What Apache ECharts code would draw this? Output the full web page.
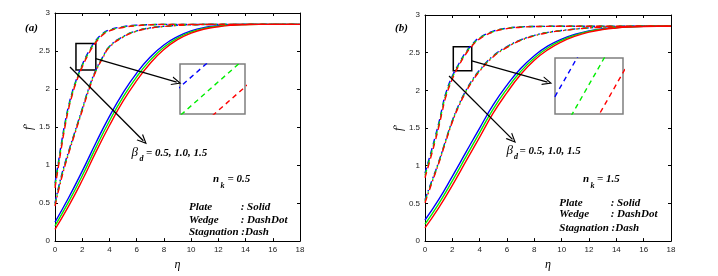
<!DOCTYPE html>
<html><head><meta charset="utf-8">
<script src="https://cdn.jsdelivr.net/npm/echarts@6/dist/echarts.min.js"></script>
<style>html,body{margin:0;padding:0;background:#fff}#c{width:718px;height:276px}</style>
</head><body><div id="c"></div>
<script>
// ---------- axes ----------
const xTicks = [0, 2, 4, 6, 8, 10, 12, 14, 16, 18];
const yTicks = [0, 0.5, 1, 1.5, 2, 2.5, 3];
const betaLabels = ['0.5', '1.0', '1.5'];          // blue, green, red
const colors = ['#0000ff', '#00ee00', '#ff0000'];

// ---------- eta grids ----------
const etaPlate = [0, 1, 2, 3, 4, 5, 6, 7, 8, 9, 10, 11, 12, 13, 14, 15, 16, 17, 18];
const etaWedge = [0, 0.5, 1, 1.5, 2, 2.5, 3, 3.5, 4, 5, 6, 7, 8, 9, 10, 12, 14, 16, 18];
const etaStag  = [0, 0.25, 0.5, 0.75, 1, 1.25, 1.5, 2, 2.5, 3, 3.5, 4, 5, 6, 7, 8, 10, 12, 14, 16, 18];

// ---------- panel (a): n_k = 0.5 ----------
const plateA_b05 = [0.25, 0.57, 0.92, 1.29, 1.64, 1.95, 2.21, 2.42, 2.58, 2.69, 2.765, 2.81, 2.833, 2.844, 2.85, 2.85, 2.85, 2.85, 2.85];
const plateA_b10 = [0.20, 0.515, 0.86, 1.23, 1.58, 1.895, 2.16, 2.38, 2.55, 2.67, 2.75, 2.80, 2.827, 2.841, 2.848, 2.85, 2.85, 2.85, 2.85];
const plateA_b15 = [0.155, 0.46, 0.80, 1.17, 1.52, 1.84, 2.11, 2.34, 2.52, 2.65, 2.735, 2.79, 2.82, 2.838, 2.846, 2.85, 2.85, 2.85, 2.85];

const wedgeA_b05 = [0.50, 0.88, 1.18, 1.46, 1.74, 2.02, 2.25, 2.42, 2.56, 2.69, 2.765, 2.805, 2.825, 2.838, 2.845, 2.85, 2.85, 2.85, 2.85];
const wedgeA_b10 = [0.48, 0.86, 1.165, 1.45, 1.73, 2.01, 2.24, 2.413, 2.555, 2.687, 2.763, 2.803, 2.824, 2.837, 2.845, 2.85, 2.85, 2.85, 2.85];
const wedgeA_b15 = [0.46, 0.84, 1.15, 1.435, 1.715, 1.995, 2.23, 2.405, 2.55, 2.683, 2.76, 2.80, 2.822, 2.836, 2.844, 2.85, 2.85, 2.85, 2.85];

const stagA_b05 = [0.76, 1.04, 1.32, 1.57, 1.78, 1.95, 2.09, 2.32, 2.50, 2.64, 2.73, 2.78, 2.82, 2.84, 2.847, 2.85, 2.85, 2.85, 2.85, 2.85, 2.85];
const stagA_b10 = [0.73, 1.01, 1.29, 1.545, 1.76, 1.93, 2.075, 2.305, 2.486, 2.626, 2.72, 2.772, 2.815, 2.837, 2.846, 2.85, 2.85, 2.85, 2.85, 2.85, 2.85];
const stagA_b15 = [0.70, 0.98, 1.26, 1.52, 1.74, 1.91, 2.06, 2.29, 2.472, 2.612, 2.71, 2.764, 2.81, 2.834, 2.845, 2.85, 2.85, 2.85, 2.85, 2.85, 2.85];

// ---------- panel (b): n_k = 1.5 ----------
const plateB_b05 = [0.28, 0.55, 0.86, 1.18, 1.50, 1.81, 2.07, 2.29, 2.46, 2.59, 2.68, 2.745, 2.79, 2.818, 2.835, 2.845, 2.85, 2.85, 2.85];
const plateB_b10 = [0.225, 0.495, 0.80, 1.12, 1.44, 1.755, 2.02, 2.25, 2.43, 2.565, 2.663, 2.733, 2.782, 2.813, 2.832, 2.843, 2.849, 2.85, 2.85];
const plateB_b15 = [0.175, 0.44, 0.74, 1.06, 1.38, 1.70, 1.97, 2.21, 2.40, 2.54, 2.645, 2.72, 2.773, 2.807, 2.828, 2.841, 2.848, 2.85, 2.85];

const wedgeB_b05 = [0.55, 0.80, 1.05, 1.33, 1.60, 1.82, 2.00, 2.15, 2.27, 2.46, 2.58, 2.67, 2.73, 2.77, 2.795, 2.83, 2.845, 2.85, 2.85];
const wedgeB_b10 = [0.53, 0.785, 1.04, 1.32, 1.59, 1.81, 1.99, 2.14, 2.262, 2.453, 2.575, 2.666, 2.727, 2.768, 2.793, 2.829, 2.844, 2.85, 2.85];
const wedgeB_b15 = [0.51, 0.77, 1.03, 1.31, 1.58, 1.80, 1.98, 2.13, 2.254, 2.446, 2.57, 2.662, 2.724, 2.766, 2.791, 2.828, 2.844, 2.85, 2.85];

const stagB_b05 = [0.90, 1.06, 1.22, 1.39, 1.56, 1.76, 1.95, 2.19, 2.36, 2.51, 2.62, 2.70, 2.785, 2.825, 2.842, 2.848, 2.85, 2.85, 2.85, 2.85, 2.85];
const stagB_b10 = [0.87, 1.03, 1.19, 1.36, 1.535, 1.735, 1.925, 2.17, 2.348, 2.498, 2.61, 2.692, 2.78, 2.822, 2.84, 2.847, 2.85, 2.85, 2.85, 2.85, 2.85];
const stagB_b15 = [0.84, 1.00, 1.16, 1.33, 1.51, 1.71, 1.90, 2.15, 2.336, 2.486, 2.60, 2.684, 2.775, 2.819, 2.838, 2.846, 2.85, 2.85, 2.85, 2.85, 2.85];

// ---------- inset windows (data ranges magnified) ----------
const insetA_x = [2.6, 2.7];
const insetA_y = [2.5148, 2.5392];
const insetB_x = [2.7, 2.8];
const insetB_y = [2.4156, 2.4297];

// ---------- annotation geometry (data coords) ----------
const boxA = [[1.54, 2.60], [3.0, 2.25]];
const arrowsA = [[[2.99, 2.40], [8.94, 2.09]], [[1.10, 2.29], [6.49, 1.32]]];
const boxB = [[2.07, 2.58], [3.42, 2.26]];
const arrowsB = [[[3.42, 2.39], [8.96, 2.11]], [[1.76, 2.19], [6.40, 1.35]]];

// ---------- build ----------
const zip = (xs, ys) => xs.map((x, i) => [x, ys[i]]);
const panels = [
  {plate: [plateA_b05, plateA_b10, plateA_b15], wedge: [wedgeA_b05, wedgeA_b10, wedgeA_b15], stag: [stagA_b05, stagA_b10, stagA_b15], box: boxA, arrows: arrowsA},
  {plate: [plateB_b05, plateB_b10, plateB_b15], wedge: [wedgeB_b05, wedgeB_b10, wedgeB_b15], stag: [stagB_b05, stagB_b10, stagB_b15], box: boxB, arrows: arrowsB}
];
const gridsPx = [
  {left: 55, top: 13, width: 245, height: 233},
  {left: 425, top: 15, width: 246, height: 231}
];
const insetPx = [
  {left: 180, top: 64, width: 65, height: 50},
  {left: 555, top: 58, width: 68, height: 56}
];

const axisCommon = {
  type: 'value',
  axisLine: {show: true, onZero: false, lineStyle: {color: '#000', width: 1}},
  axisTick: {show: true, inside: true, length: 3, lineStyle: {color: '#000', width: 1}},
  splitLine: {show: false}
};
const xAxes = [], yAxes = [], grids = [], series = [];
const chevron = 'path://M5,0 L10,10 L8.6,10 L5,2.8 L1.4,10 L0,10 Z';

gridsPx.forEach((g, p) => {
  grids.push(Object.assign({containLabel: false}, g));
  const xb = {min: xTicks[0], max: xTicks[xTicks.length - 1], interval: xTicks[1] - xTicks[0]};
  const yb = {min: yTicks[0], max: yTicks[yTicks.length - 1], interval: yTicks[1] - yTicks[0]};
  xAxes.push(Object.assign({}, axisCommon, xb, {gridIndex: p, position: 'bottom',
    axisLabel: {fontSize: 8, color: '#222', margin: 5, fontFamily: 'Liberation Sans'},
    name: 'η', nameLocation: 'middle', nameGap: 17,
    nameTextStyle: {fontFamily: 'Liberation Serif', fontStyle: 'italic', fontSize: 12, color: '#000'}}));
  xAxes.push(Object.assign({}, axisCommon, xb, {gridIndex: p, position: 'top', axisLabel: {show: false}}));
  yAxes.push(Object.assign({}, axisCommon, yb, {gridIndex: p, position: 'left',
    axisLabel: {fontSize: 8, color: '#222', margin: 5, fontFamily: 'Liberation Sans'},
    name: "f'", nameLocation: 'middle', nameGap: 20, nameRotate: 90,
    nameTextStyle: {fontFamily: 'Liberation Serif', fontStyle: 'italic', fontSize: 12, color: '#000'}}));
  yAxes.push(Object.assign({}, axisCommon, yb, {gridIndex: p, position: 'right', axisLabel: {show: false}}));
});
insetPx.forEach((g, k) => {
  grids.push(Object.assign({show: true, borderColor: '#7f7f7f', borderWidth: 1.5, backgroundColor: '#fff', containLabel: false}, g));
  const xr = k === 0 ? insetA_x : insetB_x, yr = k === 0 ? insetA_y : insetB_y;
  xAxes.push({type: 'value', gridIndex: 2 + k, min: xr[0], max: xr[1], show: false});
  yAxes.push({type: 'value', gridIndex: 2 + k, min: yr[0], max: yr[1], show: false});
});

const families = [
  {key: 'plate', eta: etaPlate, name: 'Plate', type: 'solid'},
  {key: 'wedge', eta: etaWedge, name: 'Wedge', type: [6, 3, 1.5, 3]},
  {key: 'stag', eta: etaStag, name: 'Stagnation', type: [6, 4]}
];
panels.forEach((pn, p) => {
  families.forEach((fam, fi) => {
    pn[fam.key].forEach((vals, ci) => {
      const s = {
        type: 'line', name: fam.name + ' βd=' + betaLabels[ci],
        xAxisIndex: 2 * p, yAxisIndex: 2 * p,
        data: zip(fam.eta, vals), showSymbol: false, smooth: 0.5,
        lineStyle: {color: colors[ci], width: 1.4, type: fam.type}, itemStyle: {color: colors[ci]},
        animation: false, silent: true, z: 2 + ci
      };
      if (fi === 0 && ci === 0) {
        s.markArea = {silent: true, itemStyle: {color: 'rgba(0,0,0,0)', borderColor: '#000', borderWidth: 1.5},
          label: {show: false},
          data: [[{coord: pn.box[0]}, {coord: pn.box[1]}]]};
        s.markLine = {silent: true, animation: false, symbol: ['none', chevron], symbolSize: [9, 10],
          label: {show: false}, lineStyle: {color: '#000', width: 1.3, type: 'solid'},
          emphasis: {disabled: true},
          data: pn.arrows.map(a => [{coord: a[0]}, {coord: a[1]}])};
      }
      series.push(s);
    });
  });
  // inset: magnified stagnation curves
  pn.stag.forEach((vals, ci) => {
    series.push({type: 'line', xAxisIndex: 4 + p, yAxisIndex: 4 + p, data: zip(etaStag, vals),
      showSymbol: false, smooth: false, clip: true, animation: false, silent: true,
      lineStyle: {color: colors[ci], width: 1.4, type: [5, 4]}, z: 10});
  });
});

const F = 'bold italic 11px "Liberation Serif"';
const txt = (t, x, y, font) => ({type: 'text', x: x, y: y, silent: true, z: 100,
  style: {text: t, font: font || F, fill: '#000', align: 'left', verticalAlign: 'middle'}});
const graphic = [
  txt('(a)', 25, 28.5), txt('(b)', 395, 28),
  txt('β', 131.5, 152.5, 'italic 13px "Liberation Serif"'), txt('d', 139.5, 158.5, 'bold italic 8px "Liberation Serif"'),
  txt('= 0.5, 1.0, 1.5', 146, 153.5),
  txt('β', 506.5, 150.5, 'italic 13px "Liberation Serif"'), txt('d', 514, 156.5, 'bold italic 8px "Liberation Serif"'),
  txt('= 0.5, 1.0, 1.5', 519.5, 151.5),
  txt('n', 213, 179.5), txt('k', 220.5, 186, 'bold italic 8px "Liberation Serif"'), txt('= 0.5', 227.5, 179.5),
  txt('n', 583, 179.5), txt('k', 590.5, 186, 'bold italic 8px "Liberation Serif"'), txt('= 1.5', 597, 179.5),
  txt('Plate', 189, 207.4), txt(': Solid', 240.7, 207.4),
  txt('Wedge', 189, 220.4), txt(': DashDot', 240.7, 220.4),
  txt('Stagnation :Dash', 189, 232.4),
  txt('Plate', 559.3, 203), txt(': Solid', 610.7, 203),
  txt('Wedge', 559.3, 214.4), txt(': DashDot', 610.7, 214.4),
  txt('Stagnation :Dash', 559.3, 228)
];

const chart = echarts.init(document.getElementById('c'), null, {renderer: 'canvas'});
chart.setOption({
  animation: false, backgroundColor: '#fff',
  grid: grids, xAxis: xAxes, yAxis: yAxes, series: series, graphic: graphic
});
</script></body></html>
